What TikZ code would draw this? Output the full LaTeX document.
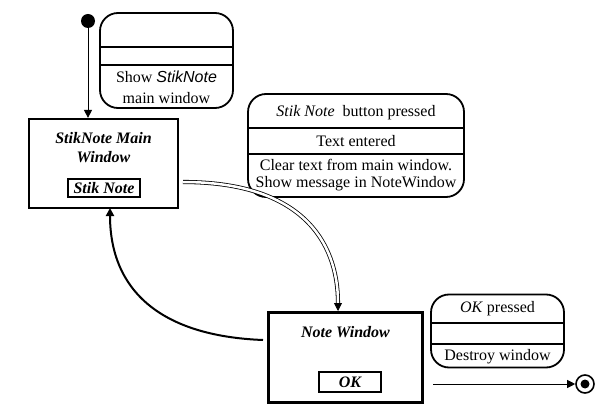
\documentclass[tikz,border=0pt]{standalone}
\usepackage{fontspec}
\setmainfont{Liberation Serif}
\newfontfamily\arialfont{Liberation Sans}
\usetikzlibrary{arrows.meta}
\tikzset{
  statebox/.style={draw, line width=2.2pt, inner sep=0pt},
  actbox/.style={draw, line width=1.8pt, rounded corners=18pt, inner sep=0pt},
  btn/.style={draw, line width=1.8pt, inner sep=0pt, font=\fontsize{16}{19}\selectfont\bfseries\itshape},
  divider/.style={line width=1.8pt},
  txt/.style={inner sep=0pt},
  tip/.style={-{Triangle[length=8pt,width=8pt]}},
}

\begin{document}
\begin{tikzpicture}[x=1pt,y=-1pt,font=\fontsize{16}{19}\selectfont]
\useasboundingbox (0,0) rectangle (599,414);
%% nodes
\node[circle, fill, minimum size=14pt, inner sep=0pt] (start) at (88,21) {};
\node[actbox, minimum width=133pt, minimum height=95pt] (show) at (166.5,60.5) {};
\node[txt] (showa) at (166.5,77) {Show {\arialfont\itshape StikNote}};
\node[txt] (showb) at (166.5,98) {main window};

\node[statebox, minimum width=149pt, minimum height=89pt] (main) at (103.5,163.5) {};
\node[txt, font=\fontsize{16}{19}\selectfont\bfseries\itshape, align=center] (maintitle) at (103.5,148) {StikNote Main\\Window};
\node[btn, minimum width=72pt, minimum height=18pt] (stikbtn) at (104,188) {Stik Note};

\node[actbox, minimum width=216pt, minimum height=103pt] (press) at (356,145.5) {};
\node[txt] (pressa) at (356,113) {\textit{Stik Note}\ \ button pressed};
\node[txt] (pressb) at (356,141) {Text entered};
\node[txt] (pressc) at (356,165) {Clear text from main window.};
\node[txt] (pressd) at (356,184) {Show message in NoteWindow};

\node[statebox, minimum width=154pt, minimum height=90pt] (note) at (345.5,357.5) {};
\node[txt, font=\fontsize{16}{19}\selectfont\bfseries\itshape] (notetitle) at (345.5,332) {Note Window};
\node[btn, minimum width=62pt, minimum height=20pt] (okbtn) at (350,382) {OK};

\node[actbox, minimum width=133pt, minimum height=73pt] (okact) at (497.5,331) {};
\node[txt] (okacta) at (497.5,309) {\textit{OK} pressed};
\node[txt] (okactb) at (497.5,357) {Destroy window};

\node[circle, draw, line width=1.6pt, minimum size=18pt, inner sep=0pt] (stop) at (585,384) {};
\node[circle, fill, minimum size=9pt, inner sep=0pt] (stopdot) at (stop) {};

%%% dividers
\draw[divider] (100,47) -- (233,47);
\draw[divider] (100,65) -- (233,65);
\draw[divider] (248,128) -- (465,128);
\draw[divider] (248,154) -- (465,154);
\draw[divider] (431,323) -- (564,323);
\draw[divider] (431,344) -- (564,344);

%%% edges
\coordinate (mout) at (183,182);
\coordinate (nin) at (338,311);
\coordinate (nout) at (263,340);
\coordinate (min) at (110,208);
\coordinate (fin) at (433,384);
\draw[tip, line width=0.9pt] (start) -- (start |- main.north);
\draw[double, double distance=2.5pt, line width=0.8pt, tip] (mout) .. controls (300,182) and (338,240) .. (nin);
\draw[tip, line width=2pt] (nout) .. controls (160,336) and (110,290) .. (min);
\draw[tip, line width=0.9pt] (fin) -- (stop);
\end{tikzpicture}
\end{document}
